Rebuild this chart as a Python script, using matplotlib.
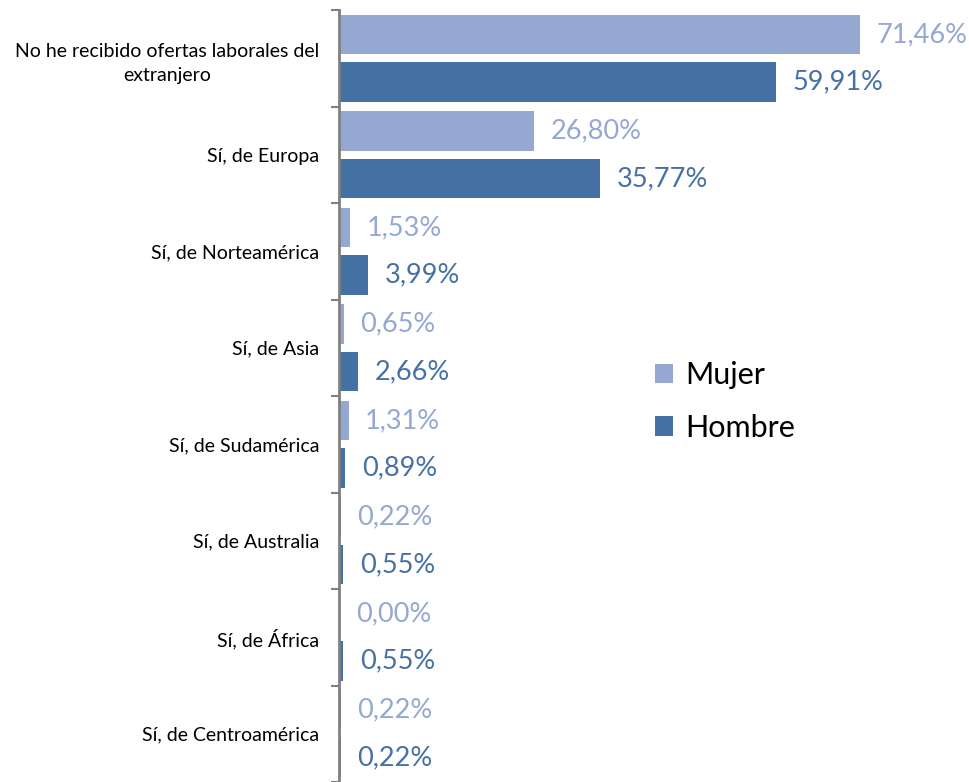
import numpy as np
import matplotlib.pyplot as plt

# data
categorias = ["No he recibido ofertas laborales del\nextranjero",
              "Sí, de Europa",
              "Sí, de Norteamérica",
              "Sí, de Asia",
              "Sí, de Sudamérica",
              "Sí, de Australia",
              "Sí, de África",
              "Sí, de Centroamérica"]
mujer = [71.46, 26.80, 1.53, 0.65, 1.31, 0.22, 0.00, 0.22]
hombre = [59.91, 35.77, 3.99, 2.66, 0.89, 0.55, 0.55, 0.22]

c_mujer = '#95A8D2'
c_hombre = '#4571A6'

plt.rcParams['font.family'] = ['Lato', 'DejaVu Sans']

fig = plt.figure(figsize=(9.7, 7.82), dpi=100)
ax = fig.add_axes([0.3495, 0.0, 0.6505, 0.9872])

n = len(categorias)
y = np.arange(n)
off = 0.245
h = 0.41

ax.barh(y - off, mujer, height=h, color=c_mujer, label='Mujer')
ax.barh(y + off, hombre, height=h, color=c_hombre, label='Hombre')

def fmt(v):
    return ('%.2f%%' % v).replace('.', ',')

for i in range(n):
    ax.annotate(fmt(mujer[i]), (mujer[i], y[i] - off), xytext=(12, 0),
                textcoords='offset points', va='center', ha='left',
                fontsize=19.5, color=c_mujer)
    ax.annotate(fmt(hombre[i]), (hombre[i], y[i] + off), xytext=(12, 0),
                textcoords='offset points', va='center', ha='left',
                fontsize=19.5, color=c_hombre)

ax.set_xlim(0, 86.6)
ax.set_ylim(n - 0.5, -0.5)

# ticks at category boundaries, labels at centres
ax.set_yticks(np.arange(n + 1) - 0.5)
ax.set_yticklabels([])
ax.set_yticks(y, minor=True)
ax.set_yticklabels(categorias, minor=True, fontsize=14, multialignment='center',
                   linespacing=1.5)
ax.tick_params(axis='y', which='major', length=6, width=1.5, color='#808080')
ax.tick_params(axis='y', which='minor', length=0, pad=14)
ax.set_xticks([])

for s in ['top', 'right', 'bottom']:
    ax.spines[s].set_visible(False)
ax.spines['left'].set_color('#808080')
ax.spines['left'].set_linewidth(2)

ax.legend(loc='center left', bbox_to_anchor=(0.501, 0.493), frameon=False,
          fontsize=22, handlelength=0.6, handleheight=0.6, handletextpad=0.4,
          labelspacing=0.8, borderpad=0, borderaxespad=0)

fig.savefig('out.png', dpi=100)
